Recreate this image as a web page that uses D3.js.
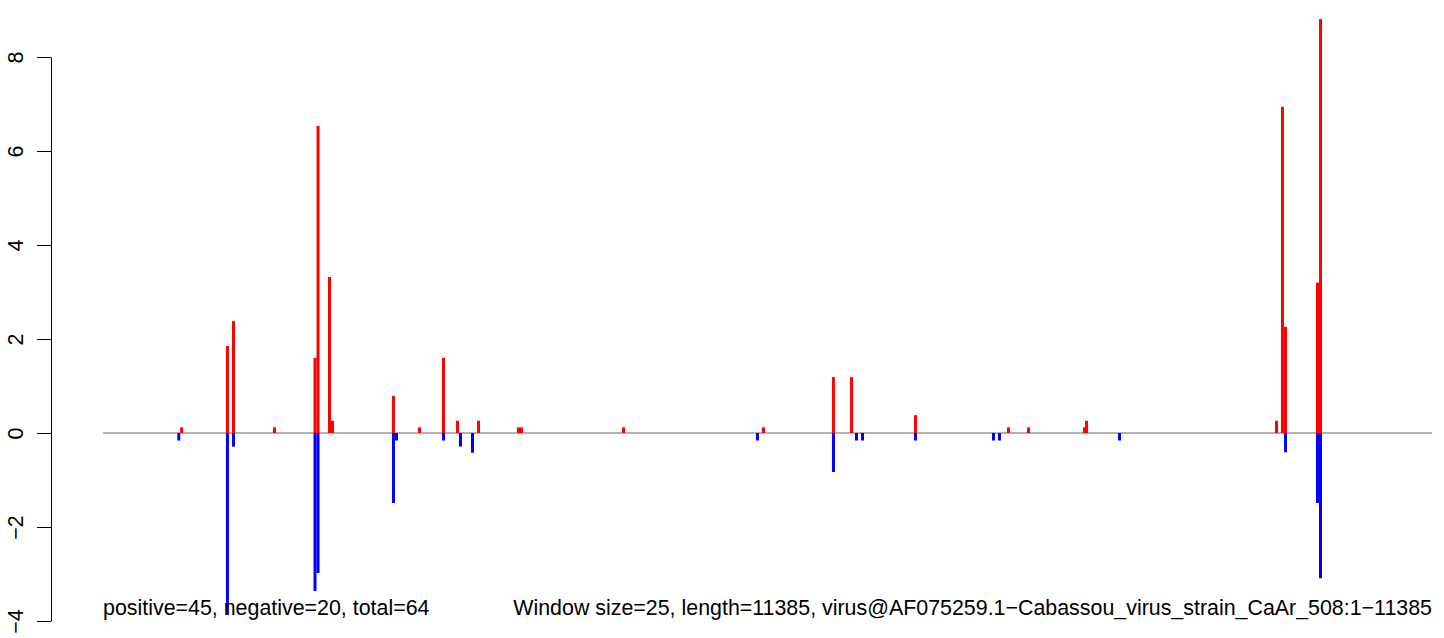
<!DOCTYPE html>
<html>
<head>
<meta charset="utf-8">
<script src="https://cdn.jsdelivr.net/npm/d3@7"></script>
<style>
  html, body { margin: 0; padding: 0; background: #ffffff; }
  svg { display: block; }
  text { font-family: "Liberation Sans", Arial, Helvetica, sans-serif; }
</style>
</head>
<body>
<svg id="chart" width="1444" height="638"></svg>
<script>
// ---- data (window start position in nt, score) ----
const seqLength = 11385;
const posPositions = [675, 1067, 1119, 1470, 1817, 1843, 1941, 1967, 2489, 2712, 2918, 3038, 3218, 3560, 3586, 4460, 5659, 6258, 6413, 6961, 7757, 7929, 8408, 8426, 10053, 10104, 10130, 10404, 10430];
const posValues    = [0.12, 1.85, 2.38, 0.12, 1.6, 6.53, 3.32, 0.26, 0.79, 0.12, 1.6, 0.26, 0.26, 0.12, 0.12, 0.12, 0.12, 1.19, 1.19, 0.38, 0.12, 0.12, 0.12, 0.26, 0.26, 6.94, 2.26, 3.2, 8.81];
const negPositions = [650, 1067, 1119, 1817, 1843, 2489, 2515, 2918, 3063, 3166, 5607, 6258, 6455, 6507, 6961, 7629, 7680, 8708, 10130, 10404, 10430];
const negValues    = [-0.16, -3.87, -0.29, -3.36, -2.98, -1.49, -0.16, -0.16, -0.29, -0.42, -0.16, -0.83, -0.16, -0.16, -0.16, -0.16, -0.16, -0.16, -0.41, -1.49, -3.09];
const yTicks = [-4, -2, 0, 2, 4, 6, 8];
const leftNote = "positive=45, negative=20, total=64";
const rightNote = "Window size=25, length=11385, virus@AF075259.1\u2212Cabassou_virus_strain_CaAr_508:1\u221211385";

// ---- layout ----
const svg = d3.select("#chart");
const x = d3.scaleLinear().domain([1, seqLength]).range([103, 1432]);
const y = d3.scaleLinear().domain([-4, 8]).range([621, 57]);
const axisX = 51;

// y axis
const yAxis = d3.axisLeft(y).tickValues(yTicks).tickSizeInner(14).tickSizeOuter(0).tickFormat(d => d < 0 ? "\u2212" + Math.abs(d) : String(d));
const gAxis = svg.append("g").attr("transform", `translate(${axisX},0)`).call(yAxis);
gAxis.select(".domain").attr("stroke", "#000").attr("stroke-width", 1);
gAxis.selectAll(".tick line").attr("stroke", "#000").attr("stroke-width", 1);
gAxis.selectAll(".tick text")
  .attr("x", null).attr("dy", null)
  .attr("transform", "translate(-28,0) rotate(-90)")
  .attr("text-anchor", "middle")
  .attr("fill", "#000")
  .style("font-size", "21.4px")
  .style("font-family", "'Liberation Sans', Arial, sans-serif");

// zero line
svg.append("line")
  .attr("x1", x(1)).attr("x2", x(seqLength))
  .attr("y1", y(0)).attr("y2", y(0))
  .attr("stroke", "#999999").attr("stroke-width", 1.6);

// bars
const posData = posPositions.map((p, i) => ({p, v: posValues[i]}));
const negData = negPositions.map((p, i) => ({p, v: negValues[i]}));

svg.append("g").selectAll("line").data(posData).join("line")
  .attr("x1", d => x(d.p)).attr("x2", d => x(d.p))
  .attr("y1", y(0)).attr("y2", d => y(d.v))
  .attr("stroke", "#ff0000").attr("stroke-width", 3);

svg.append("g").selectAll("line").data(negData).join("line")
  .attr("x1", d => x(d.p)).attr("x2", d => x(d.p))
  .attr("y1", y(0)).attr("y2", d => y(d.v))
  .attr("stroke", "#0000ff").attr("stroke-width", 3);

// notes
svg.append("text").attr("x", 103).attr("y", 615).attr("text-anchor", "start")
  .style("font-size", "21.4px").attr("fill", "#000").text(leftNote);
svg.append("text").attr("x", 1432).attr("y", 615).attr("text-anchor", "end")
  .style("font-size", "21.4px").attr("fill", "#000").text(rightNote);
</script>
</body>
</html>
